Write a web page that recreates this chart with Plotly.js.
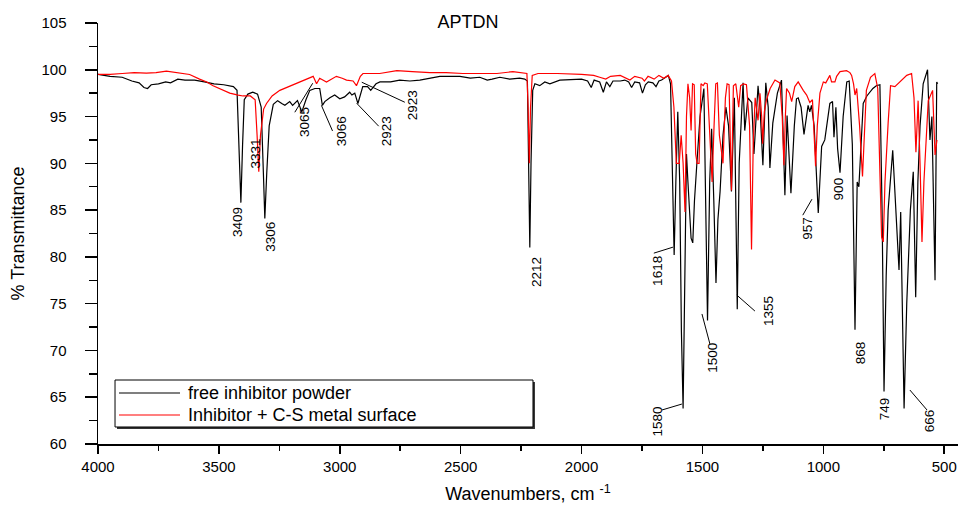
<!DOCTYPE html>
<html>
<head>
<meta charset="utf-8">
<script src="https://cdn.plot.ly/plotly-3.0.1.min.js"></script>
<style>html,body{margin:0;padding:0;background:#fff;}#chart{width:960px;height:508px;}</style>
</head>
<body>
<div id="chart"></div>
<script>
// ---------- data ----------
const seriesNames = ["free inhibitor powder", "Inhibitor + C-S metal surface"];
const seriesColors = ["#000000", "#ff0000"];

const freeWn = [4000,3950,3900,3860,3830,3810,3795,3780,3750,3720,3700,3670,3640,3600,3560,3520,3480,3440,3425,3418,3409,3402,3395,3380,3360,3340,3325,3316,3310,3302,3292,3275,3257,3240,3227,3207,3195,3175,3157,3140,3124,3103,3083,3072,3062,3041,3021,3000,2980,2959,2950,2938,2925,2905,2885,2872,2850,2834,2790,2752,2710,2669,2620,2586,2503,2460,2421,2390,2370,2338,2297,2256,2235,2224,2219,2214,2209,2202,2193,2173,2152,2131,2090,2028,2000,1975,1960,1948,1925,1910,1897,1883,1870,1840,1821,1805,1793,1780,1760,1748,1736,1724,1705,1692,1680,1669,1650,1641,1632,1625,1617,1610,1602,1594,1587,1580,1574,1566,1560,1547,1540,1533,1523,1510,1494,1487,1479,1470,1462,1453,1444,1436,1427,1415,1403,1392,1380,1368,1362,1356,1348,1332,1325,1312,1296,1287,1270,1262,1250,1238,1228,1221,1209,1190,1173,1165,1159,1150,1134,1120,1111,1104,1092,1080,1063,1056,1049,1038,1021,1007,994,973,962,956,948,941,931,918,903,893,880,869,860,853,848,835,820,795,781,766,757,749,740,732,713,697,687,680,673,666,655,640,628,618,609,600,587,569,559,551,538,531,527];
const freeT  = [99.5,99.3,99.2,98.8,98.6,98.1,98.0,98.4,98.5,98.7,98.6,99.0,98.9,98.9,98.7,98.5,98.4,98.2,97.8,92,85.8,92,96.8,97.4,97.6,97.4,96,89,84.1,89,94,96.3,96.7,96.4,96.2,96.6,96.2,96.7,95.5,96.8,97.8,98.0,98.0,96.2,96.6,97.0,97.3,96.9,97.1,97.6,97.3,97.5,96.4,98.2,98.2,97.8,98.5,98.7,98.7,98.9,98.8,98.9,99.1,99.3,99.3,99.1,99.2,98.9,99.0,99.2,99.0,99.1,99.0,98.8,90,81.0,90,97.8,98.5,98.3,98.7,98.5,98.9,99.0,99.0,98.8,98.1,98.9,98.7,97.6,98.7,98.2,98.8,98.8,98.9,98.7,98.1,98.7,98.6,97.5,98.4,98.7,98.6,98.2,98.8,98.9,99.3,99.4,98.5,88,80.2,88,95.5,88,72,63.8,76,91,88,82,81.5,86,90,95,98.0,88,73.2,88,93.7,86,77.2,84,87,93,96.0,94,87.0,97.0,88,74.4,90,98.6,93.5,97.0,96.5,91.0,98.3,96,89.8,98.6,96,89.5,94.3,97.5,98.9,93,86.6,95.1,86.8,94,96.9,97.0,96,93.1,96.2,95.5,96.2,94,84.7,91.8,92.5,96.4,96.6,92.8,96.0,91.6,89.0,95,98.7,98.8,92,72.2,88,87.5,90,96.4,97.2,98.0,98.3,98.4,85,65.6,78,85.0,91.4,83.2,78.6,84.8,75,63.8,75,85,89.1,75.7,88,94,98.5,100.0,92.5,95.0,77.5,98.7,98.5];

const surfWn = [4000,3950,3900,3850,3800,3760,3717,3680,3650,3621,3580,3550,3524,3490,3455,3420,3400,3370,3350,3342,3335,3328,3315,3303,3280,3248,3210,3179,3140,3110,3096,3083,3055,3014,2990,2972,2945,2931,2915,2904,2835,2764,2700,2627,2560,2491,2420,2350,2284,2240,2226,2221,2216,2211,2204,2180,2100,2000,1950,1925,1900,1880,1840,1800,1780,1750,1740,1725,1700,1680,1660,1642,1628,1618,1608,1596,1588,1580,1572,1566,1560,1553,1547,1541,1534,1528,1522,1514,1506,1497,1490,1480,1470,1460,1452,1445,1438,1430,1415,1405,1398,1390,1380,1372,1362,1350,1342,1330,1318,1305,1297,1290,1282,1270,1262,1255,1251,1244,1235,1220,1200,1180,1170,1163,1157,1152,1140,1131,1118,1104,1083,1069,1056,1045,1038,1032,1025,1014,1000,990,973,966,952,945,931,904,890,883,875,869,862,850,838,830,822,805,787,775,768,759,752,745,732,722,704,683,655,635,625,617,608,600,592,584,576,566,548,543,538,530];
const surfT  = [99.5,99.5,99.6,99.7,99.65,99.7,99.85,99.7,99.6,99.5,99.0,98.7,98.3,97.9,97.5,97.3,97.2,97.2,96.8,93,89.1,93,95.8,96.4,97.2,97.8,98.2,98.5,98.9,99.3,98.5,99.1,98.7,99.3,99.1,98.9,98.8,98.3,99.3,99.6,99.6,99.9,99.8,99.7,99.7,99.6,99.6,99.6,99.8,99.7,99.6,96,90.0,96,99.4,99.6,99.6,99.5,99.4,99.2,99.0,99.3,99.4,98.9,99.3,99.1,98.8,99.3,99.0,99.4,99.1,99.4,98.8,96,90.0,90.0,93.0,90,84.8,95,98.5,97,93.5,98.5,98.4,91,90.0,90.0,98.5,98.3,98.6,98.5,93,88.0,94,98.5,98.6,93,90.0,97,98.5,98.4,87.1,98.3,98.5,96,98.3,98.5,98.4,94,80.8,92,97,94.6,97.5,95,92.1,95.5,96.8,98.0,98.9,98.6,95,89.8,95,98.0,97.5,96.6,98.2,98.7,97.8,97.3,96.5,96.8,93,89.7,94,97.5,98.7,98.6,99.4,98.7,98.7,99.3,99.8,99.9,99.7,99.4,98.5,97.3,98.0,94,88.6,94,97.8,99.2,99.6,98,90,82.1,81.6,88,94.3,98.3,98.2,98.7,99.4,99.6,97,91.2,96.7,90,81.6,88,92.5,96.7,97.8,95,90.9,92.5];

const peakLabels = ["3409","3331","3306","3065","3066","2923","2923","2212","1618","1580","1500","1355","957","900","868","749","666"];

// ---------- layout helpers (positions, not data) ----------
// label centres [wavenumber, %T]
const labelPos = [[3422,83.7],[3348,91.0],[3286,82.1],[3149,94.4],[2992,93.4],[2806,93.4],[2702,96.2],[2184,78.4],[1684,78.5],[1684,62.4],[1457,69.2],[1229,74.2],[1064,83.1],[936,87.3],[849,69.8],[746,63.8],[560,62.5]];
// leader lines [x0,y0,x1,y1]
const leaders = [[3186,95.46,3112,98.56],[3076,96.2,3030,93.46],[2930,96.42,2839,93.97],[2909,98.67,2731,96.53],[1701,80.4,1622,81.04],[1668,63.63,1585,64.27],[1502,73.9,1469,70.68],[1358,75.92,1283,74.21],[1085,84.46,1047,86.17],[642,65.77,571,63.63]];
// legend rows: sample line x0,x1, text x, row y (paper units)
const legendRows = [0.12114, 0.06888];
const legendGeom = {x0: 0.02442, x1: 0.09535, tx: 0.10233};

const FONT = "Liberation Sans, Arial, Helvetica, sans-serif";

const traces = [
  {x: freeWn, y: freeT, name: seriesNames[0], type: "scatter", mode: "lines",
   line: {color: seriesColors[0], width: 1.2}},
  {x: surfWn, y: surfT, name: seriesNames[1], type: "scatter", mode: "lines",
   line: {color: seriesColors[1], width: 1.2}}
];

const annotations = peakLabels.map((t, i) => ({
  x: labelPos[i][0], y: labelPos[i][1], xref: "x", yref: "y",
  text: t, showarrow: false, textangle: -90,
  xanchor: "center", yanchor: "middle",
  font: {family: FONT, size: 13.5, color: "#000"}
}));

const shapes = leaders.map(l => ({
  type: "line", xref: "x", yref: "y", x0: l[0], y0: l[1], x1: l[2], y1: l[3],
  line: {color: "#000", width: 1}
}));
// legend frame with shadow
shapes.push({type: "rect", xref: "paper", yref: "paper", x0: 0.0221, x1: 0.5081, y0: 0.0357, y1: 0.1473,
  line: {width: 0}, fillcolor: "#333", layer: "above"});
shapes.push({type: "rect", xref: "paper", yref: "paper", x0: 0.0198, x1: 0.5058, y0: 0.0404, y1: 0.1520,
  line: {color: "#000", width: 1}, fillcolor: "#fff", layer: "above"});
// legend entries
seriesNames.forEach((n, i) => {
  shapes.push({type: "line", xref: "paper", yref: "paper",
    x0: legendGeom.x0, x1: legendGeom.x1, y0: legendRows[i], y1: legendRows[i],
    line: {color: seriesColors[i], width: 1.2}, layer: "above"});
  annotations.push({xref: "paper", yref: "paper", x: legendGeom.tx, y: legendRows[i],
    xanchor: "left", yanchor: "middle", showarrow: false, text: n,
    font: {family: FONT, size: 18, color: "#000"}});
});

const layout = {
  width: 960, height: 508,
  margin: {l: 98, r: 2, t: 23, b: 64},
  paper_bgcolor: "#fff", plot_bgcolor: "#fff",
  font: {family: FONT, color: "#000"},
  showlegend: false,
  title: {text: "APTDN", font: {family: FONT, size: 18, color: "#000"},
          xref: "container", x: 468/960, xanchor: "center",
          yref: "container", y: 1 - 22/508, yanchor: "middle"},
  xaxis: {
    range: [4000, 443], dtick: 500, tick0: 0,
    showgrid: false, zeroline: false, showline: true, linecolor: "#000", linewidth: 1.5,
    ticks: "outside", ticklen: 8, tickwidth: 1.5, tickcolor: "#000",
    minor: {dtick: 250, ticks: "outside", ticklen: 5, tickwidth: 1.5, tickcolor: "#000", showgrid: false},
    tickfont: {family: FONT, size: 15, color: "#000"},
    title: {text: "Wavenumbers, cm <sup>-1</sup>", font: {family: FONT, size: 18, color: "#000"}, standoff: 14}
  },
  yaxis: {
    range: [60, 105], dtick: 5, tick0: 0,
    showgrid: false, zeroline: false, showline: true, linecolor: "#000", linewidth: 1.5,
    ticks: "outside", ticklen: 12, tickwidth: 1.5, tickcolor: "#000",
    minor: {dtick: 2.5, ticks: "outside", ticklen: 8, tickwidth: 1.5, tickcolor: "#000", showgrid: false},
    tickfont: {family: FONT, size: 15, color: "#000"},
    ticklabelstandoff: 15,
    title: {text: "% Transmittance", font: {family: FONT, size: 18, color: "#000"}, standoff: 12}
  },
  annotations: annotations,
  shapes: shapes
};

Plotly.newPlot("chart", traces, layout, {staticPlot: true, displayModeBar: false});
</script>
</body>
</html>
